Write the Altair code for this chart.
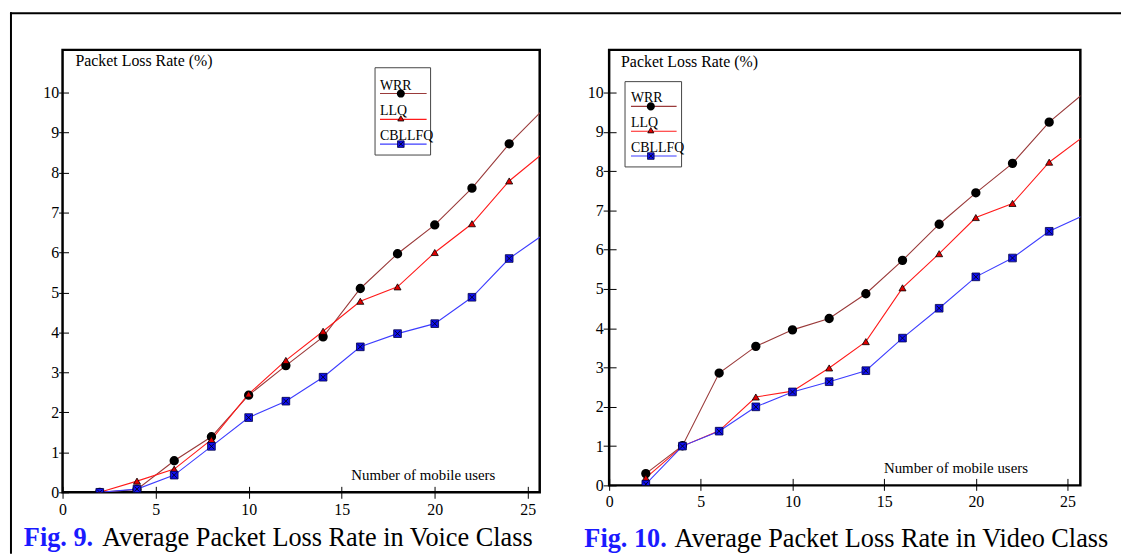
import altair as alt
import pandas as pd

# ---------------- data ----------------
users = [2, 4, 6, 8, 10, 12, 14, 16, 18, 20, 22, 24, 26]
series = ["WRR", "LLQ", "CBLLFQ"]

voice_wrr = [0.00, 0.07, 0.79, 1.39, 2.43, 3.17, 3.89, 5.10, 5.97, 6.69, 7.61, 8.72, 9.66]
voice_llq = [0.00, 0.28, 0.58, 1.32, 2.46, 3.30, 4.03, 4.78, 5.14, 6.00, 6.72, 7.79, 8.55]
voice_cbllfq = [0.00, 0.08, 0.43, 1.15, 1.87, 2.28, 2.88, 3.64, 3.97, 4.22, 4.88, 5.85, 6.50]

video_wrr = [0.30, 1.01, 2.86, 3.54, 3.96, 4.25, 4.88, 5.73, 6.65, 7.45, 8.20, 9.25, 10.03]
video_llq = [0.19, 1.00, 1.39, 2.25, 2.40, 2.99, 3.66, 5.03, 5.90, 6.82, 7.18, 8.23, 8.93]
video_cbllfq = [0.03, 1.00, 1.38, 2.00, 2.38, 2.64, 2.92, 3.75, 4.51, 5.31, 5.79, 6.47, 6.90]

x_ticks = [0, 5, 10, 15, 20, 25]
y_ticks = [0, 1, 2, 3, 4, 5, 6, 7, 8, 9, 10]

y_title = "Packet Loss Rate (%)"
x_title = "Number of mobile users"
fig_labels = ["Fig. 9.", "Fig. 10."]
captions = ["Average Packet Loss Rate in Voice Class", "Average Packet Loss Rate in Video Class"]

# ---------------- styles ----------------
FONT = "Liberation Serif"
line_colors = ["#9a3a3a", "#ff1a1a", "#3d3dff"]
X_PATH = "M-1,-1L1,1M-1,1L1,-1"


def long_df(wrr, llq, cbl):
    rows = []
    for name, vals in zip(series, [wrr, llq, cbl]):
        for u, v in zip(users, vals):
            rows.append({"users": u, "rate": v, "series": name})
    return pd.DataFrame(rows)


one = pd.DataFrame({"k": [0]})


def txt(text, x, y, size, align="left", baseline="middle", weight="normal", color="black"):
    return alt.Chart(one).mark_text(
        text=text, font=FONT, fontSize=size, align=align, baseline=baseline,
        fontWeight=weight, color=color
    ).encode(x=alt.value(x), y=alt.value(y))


def box(x0, x1, y0, y1, **kw):
    return alt.Chart(one).mark_rect(**kw).encode(
        x=alt.value(x0), x2=alt.value(x1), y=alt.value(y0), y2=alt.value(y1))


def panel(df, W, H, xmax, ymax, L):
    x = alt.X("users:Q", scale=alt.Scale(domain=[0, xmax], nice=False, zero=False),
              axis=alt.Axis(values=x_ticks, title=None, offset=L["xoff"], tickSize=12,
                            labelPadding=3, labelFlush=False, labelOverlap=False,
                            domain=False, grid=False, format="d"))
    y = alt.Y("rate:Q", scale=alt.Scale(domain=[0, ymax], nice=False),
              axis=alt.Axis(values=y_ticks, title=None, offset=L["yoff"], tickSize=L["ytick"],
                            labelPadding=0, labelOverlap=False, domain=False, grid=False,
                            format="d"))
    base = alt.Chart(df).encode(x=x, y=y)
    color = alt.Color("series:N", scale=alt.Scale(domain=series, range=line_colors), legend=None)
    lines = base.mark_line(clip=True, strokeWidth=1.1).encode(color=color, detail="series:N")
    pts = base.transform_filter("datum.users <= 24")
    wrr_pts = pts.transform_filter("datum.series == 'WRR'").mark_point(
        shape="circle", filled=True, fill="black", stroke="black", size=55, opacity=1, clip=True)
    llq_pts = pts.transform_filter("datum.series == 'LLQ'").mark_point(
        shape="triangle-up", filled=True, fill="#e00000", stroke="black", strokeWidth=0.8,
        size=50, opacity=1, clip=True)
    cbl_pts = pts.transform_filter("datum.series == 'CBLLFQ'").mark_point(
        shape="square", filled=True, fill="#1010f0", stroke="#000044", strokeWidth=0.8,
        size=60, opacity=1, clip=True)
    cbl_x = pts.transform_filter("datum.series == 'CBLLFQ'").mark_point(
        shape=X_PATH, filled=False, stroke="black", strokeWidth=0.8, size=28, opacity=1, clip=True)

    layers = [lines, wrr_pts, llq_pts, cbl_pts, cbl_x]

    # axis texts
    layers.append(txt(y_title, L["yt_x"], L["yt_y"], 16))
    layers.append(txt(x_title, L["xt_x"], L["xt_y"], 15))

    # legend box
    bx0, by0, bx1, by1 = L["box"]
    layers.append(box(bx0, bx1, by0, by1, fill="white", stroke="#444444", strokeWidth=1))
    for i, name in enumerate(series):
        ly = L["leg_y"][i]
        layers.append(alt.Chart(one).mark_rule(color=line_colors[i], strokeWidth=1.2).encode(
            x=alt.value(L["leg_x0"]), x2=alt.value(L["leg_x1"]), y=alt.value(ly)))
        layers.append(txt(name, L["leg_x0"], ly - 4, 14, baseline="alphabetic"))
        mx = L["leg_mx"]
        if name == "WRR":
            layers.append(alt.Chart(one).mark_point(shape="circle", filled=True, fill="black",
                                                     stroke="black", size=38, opacity=1).encode(
                x=alt.value(mx), y=alt.value(ly)))
        elif name == "LLQ":
            layers.append(alt.Chart(one).mark_point(shape="triangle-up", filled=True, fill="#e00000",
                                                     stroke="black", strokeWidth=0.8, size=38,
                                                     opacity=1).encode(
                x=alt.value(mx), y=alt.value(ly - 1)))
        else:
            layers.append(alt.Chart(one).mark_point(shape="square", filled=True, fill="#1010f0",
                                                     stroke="#000044", strokeWidth=0.8, size=44,
                                                     opacity=1).encode(
                x=alt.value(mx), y=alt.value(ly)))
            layers.append(alt.Chart(one).mark_point(shape=X_PATH, filled=False, stroke="black",
                                                     strokeWidth=0.8, size=20, opacity=1).encode(
                x=alt.value(mx), y=alt.value(ly)))

    # caption
    layers.append(txt(L["fig"], L["cap_x0"], L["cap_y"], 26.5, baseline="alphabetic",
                      weight="bold", color="#1a1aff"))
    layers.append(txt(L["cap"], L["cap_x1"], L["cap_y"], 26.5, baseline="alphabetic"))

    if L.get("border"):
        layers.append(box(-53, 1067, -38, -36, fill="black"))
        layers.append(box(-53, -51, -38, 508, fill="black"))

    return alt.layer(*layers).properties(width=W, height=H)


left_layout = dict(
    xoff=-6, yoff=-6, ytick=10,
    yt_x=13, yt_y=11, xt_x=291, xt_y=429,
    box=(315, 18, 371, 106), leg_y=[44, 70, 95], leg_x0=320, leg_x1=367, leg_mx=341,
    fig=fig_labels[0], cap=captions[0], cap_x0=-39, cap_x1=40, cap_y=500, border=True,
)
right_layout = dict(
    xoff=-7, yoff=-7, ytick=13,
    yt_x=12, yt_y=12, xt_x=277, xt_y=422,
    box=(16, 32, 73, 118), leg_y=[57, 82, 107], leg_x0=22, leg_x1=68, leg_mx=42,
    fig=fig_labels[1], cap=captions[1], cap_x0=-25, cap_x1=66, cap_y=501, border=False,
)

left = panel(long_df(voice_wrr, voice_llq, voice_cbllfq), 481, 446, 25.64, 11.07, left_layout)
right = panel(long_df(video_wrr, video_llq, video_cbllfq), 475, 439, 25.7, 11.09, right_layout)

chart = alt.hconcat(left, right, spacing=70, bounds="flush").properties(
    padding=0
).configure_view(
    stroke="black", strokeWidth=2.5
).configure_axis(
    labelFont=FONT, labelFontSize=16, labelColor="black", tickColor="black", tickWidth=1
).configure_text(font=FONT)

chart.save("out.html", embed_options={"renderer": "svg", "actions": False})
